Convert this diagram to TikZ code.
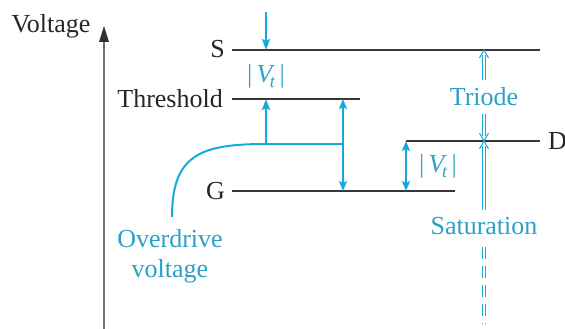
\documentclass[tikz,border=0pt]{standalone}
\usepackage{fontspec}
\setmainfont{Liberation Serif}
\usetikzlibrary{arrows.meta}
\definecolor{cyl}{RGB}{20,170,220}
\definecolor{cyt}{RGB}{45,160,200}
\definecolor{lvl}{RGB}{55,55,55}
\definecolor{axg}{RGB}{115,115,115}
\newcommand{\Vt}{|\,\textit{V\kern-0.1em}\raisebox{-0.22em}{\fontsize{18}{18}\selectfont\textit{t}}\,|}
\begin{document}
\begin{tikzpicture}[x=1pt,y=-1pt,
  every node/.style={font=\fontsize{26}{30}\selectfont, inner sep=0pt},
  lvline/.style={draw=lvl, line width=1.5pt},
  lbl/.style={text=black!85},
  clbl/.style={text=cyt},
  dim/.style={draw=cyl, line width=2pt, -{Stealth[length=11pt,width=8pt,inset=2pt]}},
  dimboth/.style={draw=cyl, line width=2pt, {Stealth[length=10pt,width=8pt,inset=2pt]}-{Stealth[length=10pt,width=8pt,inset=2pt]}},
  dbl/.style={draw=cyl, line width=1pt},
  dshd/.style={dbl, dash pattern=on 12pt off 7pt}
]
\useasboundingbox (0,0) rectangle (565,329);
% axis
\coordinate (axb) at (104,329);
\coordinate (axt) at (104,26);
\draw[axg, line width=2pt] (axb) -- (104,40);
\fill[black!80] (axt) -- (99,42) -- (109,42) -- cycle;
\node[lbl, anchor=base] (volt) at (51,33) {Voltage};
% levels
\coordinate (s1) at (232,50); \coordinate (s2) at (540,50);
\coordinate (t1) at (232,99); \coordinate (t2) at (360,99);
\coordinate (d1) at (406,141); \coordinate (d2) at (540,141);
\coordinate (g1) at (232,191); \coordinate (g2) at (455,191);
\draw[lvline] (s1) -- (s2);
\draw[lvline] (t1) -- (t2);
\draw[lvline] (d1) -- (d2);
\draw[lvline] (g1) -- (g2);
\node[lbl, anchor=base east] (S) at (225,58) {S};
\node[lbl, anchor=base east] (Th) at (223,107) {Threshold};
\node[lbl, anchor=base east] (G) at (225,199) {G};
\node[lbl, anchor=base west] (D) at (548,149) {D};
% |Vt| between S and threshold
\coordinate (a1s) at (266,12); \coordinate (a1e) at (266,50);
\coordinate (a2s) at (266,144); \coordinate (a2e) at (266,99);
\draw[dim] (a1s) -- (a1e);
\draw[dim] (a2s) -- (a2e);
\node[clbl] (vt1) at (266,76) {\Vt};
% overdrive
\coordinate (ov0) at (172,217);
\coordinate (ov1) at (266,144);
\coordinate (ov2) at (343,144);
\draw[cyl, line width=2pt] (ov0) .. controls (172,155) and (200,144) .. (ov1) -- (ov2);
\coordinate (od1) at (343,99); \coordinate (od2) at (343,191);
\draw[dimboth] (od1) -- (od2);
\node[clbl, anchor=base] (ovt) at (170,247) {Overdrive};
\node[clbl, anchor=base] (ovt2) at (170,277) {voltage};
% small |Vt|
\coordinate (b1) at (406,141); \coordinate (b2) at (406,191);
\draw[dimboth] (b1) -- (b2);
\node[clbl, anchor=west] (vt2) at (419,166) {\Vt};
% triode / saturation
\node[clbl, anchor=base] (tri) at (484,106) {Triode};
\node[clbl, anchor=base] (sat) at (484,234) {Saturation};
\coordinate (tu1) at (484,80); \coordinate (tu2) at (484,50);
\coordinate (td1) at (484,114); \coordinate (td2) at (484,141);
\coordinate (su1) at (484,210); \coordinate (su2) at (484,141);
\coordinate (sd1) at (484,247); \coordinate (sd2) at (484,324);
% up arrow to S
\draw[dbl] ([xshift=-1.8pt]tu1) -- ([xshift=-1.8pt,yshift=-5pt]tu2);
\draw[dbl] ([xshift=1.8pt]tu1) -- ([xshift=1.8pt,yshift=-5pt]tu2);
\draw[dbl] (tu2) ++(-4.5,8) -- (tu2) -- ++(4.5,8);
% down arrow to D
\draw[dbl] ([xshift=-1.8pt]td1) -- ([xshift=-1.8pt,yshift=5pt]td2);
\draw[dbl] ([xshift=1.8pt]td1) -- ([xshift=1.8pt,yshift=5pt]td2);
\draw[dbl] (td2) ++(-4.5,-8) -- (td2) -- ++(4.5,-8);
% up arrow to D (saturation)
\draw[dbl] ([xshift=-1.8pt]su1) -- ([xshift=-1.8pt,yshift=-5pt]su2);
\draw[dbl] ([xshift=1.8pt]su1) -- ([xshift=1.8pt,yshift=-5pt]su2);
\draw[dbl] (su2) ++(-4.5,8) -- (su2) -- ++(4.5,8);
% dashed continuation
\draw[dshd] ([xshift=-1.8pt]sd1) -- ([xshift=-1.8pt]sd2);
\draw[dshd] ([xshift=1.8pt]sd1) -- ([xshift=1.8pt]sd2);
\end{tikzpicture}
\end{document}
